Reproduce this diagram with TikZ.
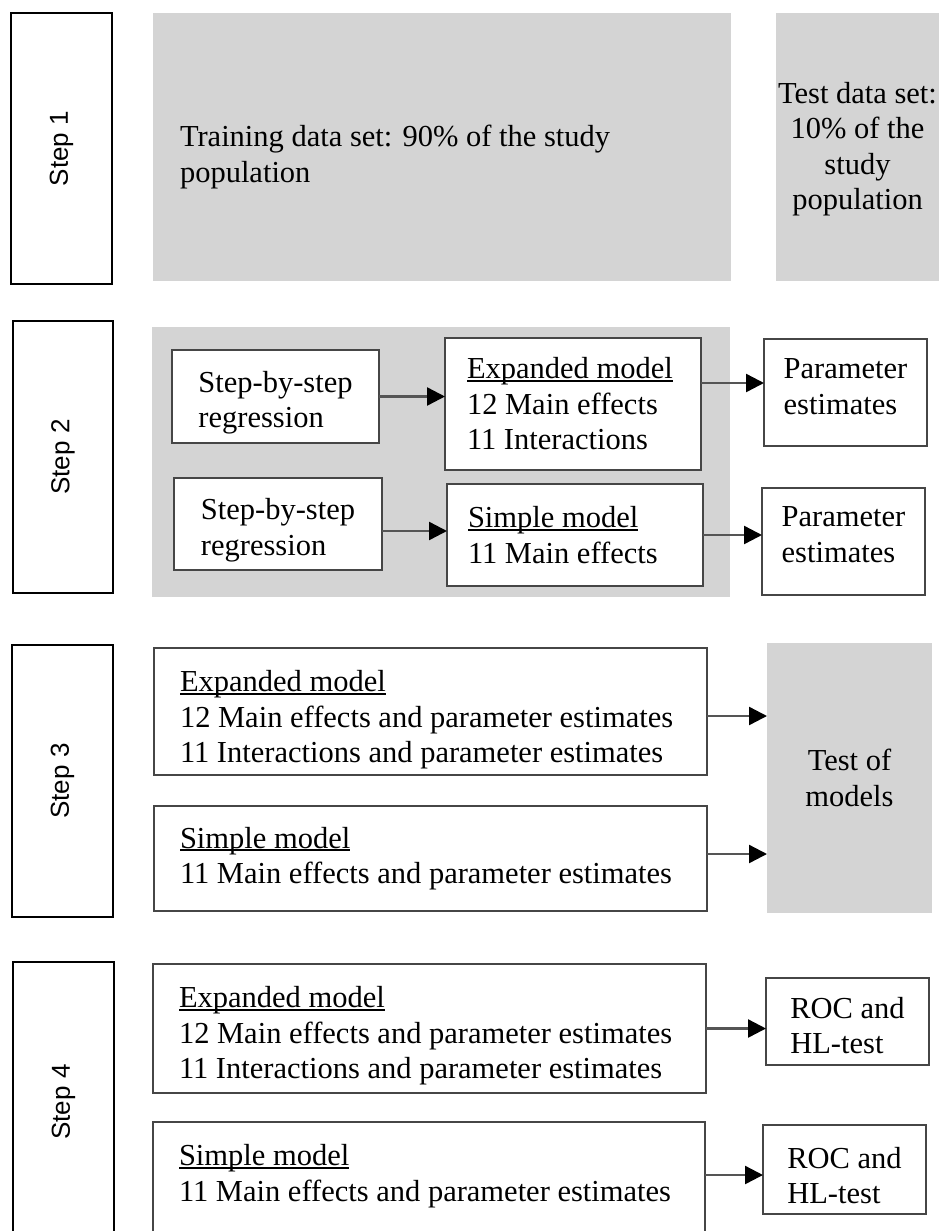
\documentclass[tikz,border=0pt]{standalone}
\usepackage{fontspec}
\usepackage{graphicx}
\setmainfont{Liberation Serif}
\newfontfamily\stepfont{Liberation Sans}
\usetikzlibrary{arrows.meta,calc}
\definecolor{panelgray}{RGB}{212,212,212}
\definecolor{edgegray}{RGB}{70,70,70}
\definecolor{linegray}{RGB}{85,85,85}
\newcommand\ulx[1]{\setbox0\hbox{#1}\rlap{\rule[-3pt]{\wd0}{1.8pt}}\box0}
\newcommand\topstrut[1]{\rule{0pt}{#1}}
\newcommand\botstrut[1]{\rule[-#1]{0pt}{0pt}}
\begin{document}
\begin{tikzpicture}[x=1pt,y=-1pt,
  every node/.style={font=\fontsize{30.5}{35.5}\selectfont, inner sep=0pt, outer sep=0pt, anchor=north west},
  stepbox/.style={draw=black, line width=2.8pt, fill=white, font=\stepfont\fontsize{26}{30}\selectfont},
  graybox/.style={fill=panelgray},
  whitebox/.style={draw=edgegray, line width=1.6pt, fill=white},
  conn/.style={draw=linegray, line width=2.4pt, -{Triangle[length=18pt,width=18pt,color=black,fill=black]}}]
\useasboundingbox (0,0) rectangle (939,1231);
\clip (0,0) rectangle (939,1231);
% Step 1
\node[stepbox, minimum width=101pt, minimum height=271pt] (st1) at (11,13) {\rotatebox{90}{Step 1}};
\node[graybox, minimum height=268pt, text width=524pt, inner xsep=27pt, align=flush left] (train) at (153,13)
  {\topstrut{41pt}Training data set: 90\% of the study\\population};
\node[graybox, minimum width=163pt, minimum height=268pt, align=center] (test) at (776,13)
  {\topstrut{25pt}Test data set:\\10\% of the\\study\\population};
% Step 2
\node[stepbox, minimum width=100pt, minimum height=272pt] (st2) at (13,321) {\rotatebox{90}{Step 2}};
\node[graybox, minimum width=578pt, minimum height=270pt] (panel) at (152,327) {};
\node[whitebox, minimum width=207pt, minimum height=93pt, align=left] (s2a) at (172,350)
  {\topstrut{34pt}Step-by-step\\regression};
\node[whitebox, minimum height=132pt, text width=212pt, inner xsep=22pt, align=flush left] (exp2) at (445,338)
  {\ulx{Expanded model}\\12 Main effects\\11 Interactions};
\node[whitebox, minimum width=208pt, minimum height=92pt, align=left] (s2b) at (174,478)
  {\topstrut{34pt}Step-by-step\\regression};
\node[whitebox, minimum height=102pt, text width=214pt, inner xsep=21pt, align=flush left] (simp2) at (447,484)
  {\ulx{Simple model}\\11 Main effects};
\node[whitebox, minimum width=163pt, minimum height=107pt, align=left] (par1) at (764,339)
  {Parameter\\estimates\botstrut{12pt}};
\node[whitebox, minimum width=163pt, minimum height=107pt, align=left] (par2) at (762,488)
  {Parameter\\estimates\botstrut{14pt}};
% Step 3
\node[stepbox, minimum width=101pt, minimum height=272pt] (st3) at (12,645) {\rotatebox{90}{Step 3}};
\node[whitebox, minimum height=127pt, text width=501pt, inner xsep=26pt, align=flush left] (exp3) at (154,648)
  {\topstrut{38pt}\ulx{Expanded model}\\12 Main effects and parameter estimates\\11 Interactions and parameter estimates};
\node[whitebox, minimum height=105pt, text width=501pt, inner xsep=26pt, align=flush left] (simp3) at (154,806)
  {\ulx{Simple model}\\11 Main effects and parameter estimates};
\node[graybox, minimum width=165pt, minimum height=270pt, align=center] (testm) at (767,643) {Test of\\models};
% Step 4
\node[stepbox, minimum width=101pt, minimum height=280pt] (st4) at (13,962) {\rotatebox{90}{Step 4}};
\node[whitebox, minimum height=129pt, text width=501pt, inner xsep=26pt, align=flush left] (exp4) at (153,964)
  {\topstrut{36pt}\ulx{Expanded model}\\12 Main effects and parameter estimates\\11 Interactions and parameter estimates};
\node[whitebox, minimum height=121pt, text width=500pt, inner xsep=26pt, align=flush left] (simp4) at (153,1122)
  {\ulx{Simple model}\\11 Main effects and parameter estimates\botstrut{19pt}};
\node[whitebox, minimum width=163pt, minimum height=87pt, align=left] (roc1) at (766,978)
  {\topstrut{29pt}ROC and\\HL-test};
\node[whitebox, minimum width=163pt, minimum height=89pt, align=left] (roc2) at (763,1125)
  {\topstrut{33pt}ROC and\\HL-test};
% connectors
\coordinate (c2) at ([yshift=-7pt]s2b.east);
\coordinate (c3) at ([yshift=21pt]exp2.east);
\coordinate (c5) at ([yshift=-4.5pt]exp3.east);
\coordinate (c6) at ([yshift=4.5pt]simp3.east);
\coordinate (c8) at ([yshift=7.5pt]simp4.east);
\draw[conn] (s2a.east) -- (s2a.east -| exp2.west);
\draw[conn] (c2) -- (c2 -| simp2.west);
\draw[conn] (c3) -- (c3 -| par1.west);
\draw[conn] (simp2.east) -- (simp2.east -| par2.west);
\draw[conn] (c5) -- (c5 -| testm.west);
\draw[conn] (c6) -- (c6 -| testm.west);
\draw[conn] (exp4.east) -- (exp4.east -| roc1.west);
\draw[conn] (c8) -- (c8 -| roc2.west);
\end{tikzpicture}
\end{document}
